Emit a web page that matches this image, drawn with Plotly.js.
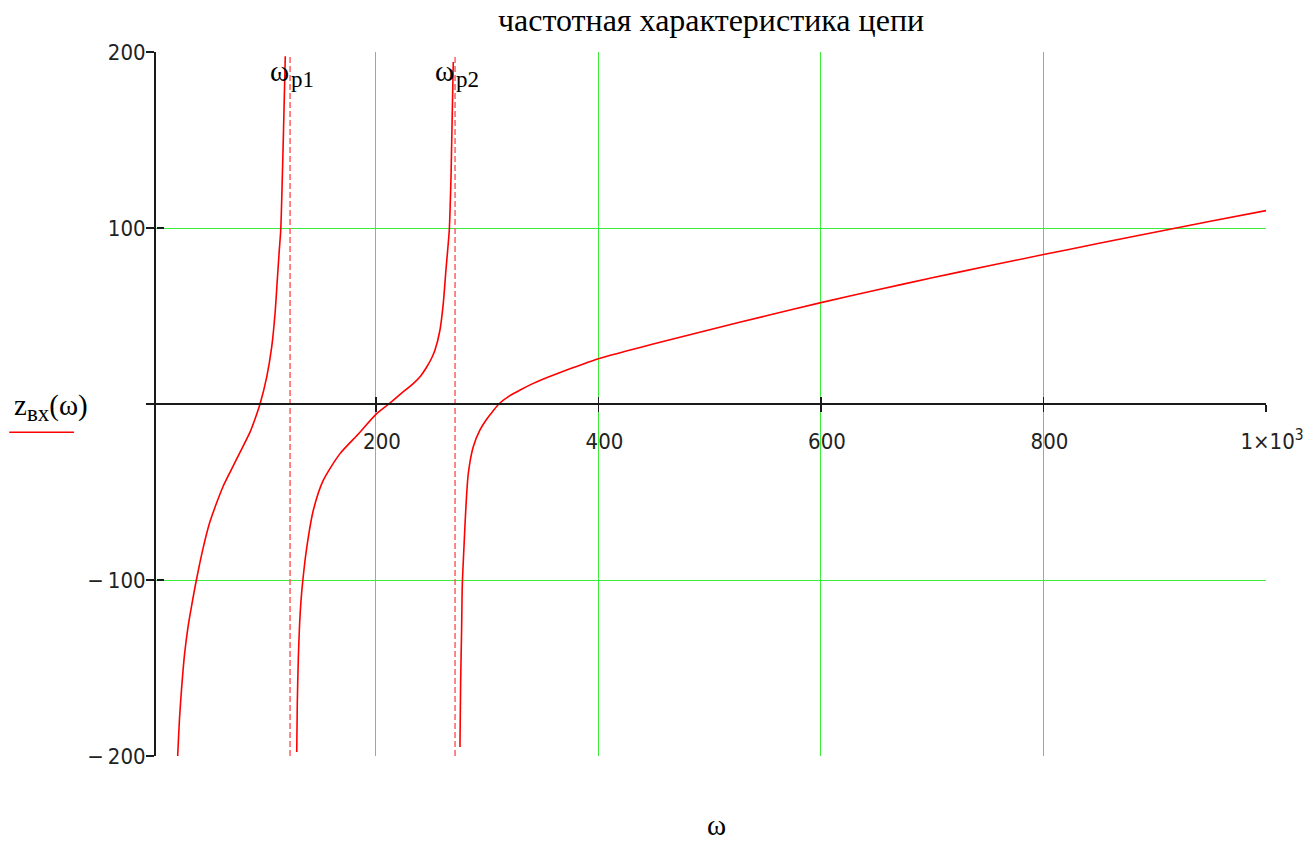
<!DOCTYPE html>
<html><head><meta charset="utf-8">
<script src="https://cdn.plot.ly/plotly-3.0.1.min.js"></script>
<style>body{margin:0;background:#fff}</style>
</head><body><div id="chart" style="width:1316px;height:844px"></div>
<script>
// --- data ---
const branch1X = [21.8, 23.5, 25.5, 28.0, 31.0, 34.5, 38.3, 44.8, 50.5, 56.9, 62.5, 68.8, 77.8, 86.8, 91.3, 95.8, 101.8, 106.3, 109.3, 111.3, 113.1, 114.4, 116.7, 118.5];
const branch1Y = [-200, -178, -160, -142, -127, -114, -101, -81.5, -67.5, -56.0, -47.0, -38.8, -27.5, -16.0, -8.5, 0.0, 15.3, 32.4, 51.4, 70.3, 87.3, 98.7, 149.8, 197.6];
const branch2X = [128.8, 129.3, 130.2, 131.3, 132.6, 134.3, 137.7, 143.7, 152.7, 167.7, 185.0, 200.6, 211.5, 222.0, 233.5, 240.0, 245.6, 250.0, 253.0, 257.5, 260.5, 262.9, 264.7, 265.9, 267.5, 269.5];
const branch2Y = [-197.7, -170, -145, -126, -112, -100, -82, -60.4, -43.3, -28.2, -16.5, -5.5, 0.0, 5.6, 11.6, 15.8, 21.0, 26.0, 30.5, 41.9, 57.0, 76.0, 89.2, 98.7, 130.0, 194.3];
const branch3X = [275.5, 276.1, 277.0, 277.6, 279.1, 280.9, 283.0, 287.4, 293.4, 299.5, 305.0, 310.5, 320.0, 330.0, 340.0, 350.0, 362.0, 375.0, 387.0, 400.0, 425.0, 450.0, 500.0, 550.0, 600.0, 650.0, 700.0, 750.0, 800.0, 850.0, 900.0, 950.0, 1000];
const branch3Y = [-194.9, -158.9, -128.0, -103.0, -81.3, -58.0, -39.5, -24.4, -14.9, -8.7, -4.2, 0.0, 4.6, 8.1, 11.3, 14.1, 17.1, 20.1, 22.9, 25.7, 30.1, 34.2, 42.2, 50.0, 57.6, 64.8, 71.7, 78.4, 84.9, 91.3, 97.6, 103.8, 109.9];
const resonanceX = [122.8, 271.1];
const resonanceNames = ['p1', 'p2'];
const markerY = [-200, 197.6];
const xTickVals = [200, 400, 600, 800, 1000];
const xTickText = ['200', '400', '600', '800', '1×10<sup>3</sup>'];
const yTickVals = [-200, -100, 0, 100, 200];
const yTickText = ['−\u2009200', '−\u2009100', '', '100', '200'];

const xRange = [2.3, 1000];
const yRange = [-200, 200];
const serif = 'Liberation Serif, Times New Roman, serif';
const narrow = 'DejaVu Sans Condensed, Liberation Sans Narrow, Arial Narrow, sans-serif';
const grid = 'rgb(60,238,60)';
const axisCol = '#1a1a1a';

const curveLine = {color: '#ff0000', width: 1.6, shape: 'spline', smoothing: 0.7};
const traces = [
  {x: branch1X, y: branch1Y, mode: 'lines', line: curveLine, hoverinfo: 'skip'},
  {x: branch2X, y: branch2Y, mode: 'lines', line: curveLine, hoverinfo: 'skip'},
  {x: branch3X, y: branch3Y, mode: 'lines', line: curveLine, hoverinfo: 'skip'}
];
resonanceX.forEach(function (w) {
  traces.push({x: [w, w], y: markerY, mode: 'lines', xaxis: 'x2', yaxis: 'y2',
    line: {color: 'rgb(255,95,95)', width: 1.5, dash: '6px,3px'}, hoverinfo: 'skip'});
});

const annotations = [];
resonanceX.forEach(function (w, i) {
  annotations.push({x: w, y: 1, xref: 'x', yref: 'paper', text: 'ω', showarrow: false,
    xanchor: 'right', yanchor: 'middle', xshift: 1, yshift: -19, font: {family: serif, size: 29, color: '#000'}});
  annotations.push({x: w, y: 1, xref: 'x', yref: 'paper', text: resonanceNames[i], showarrow: false,
    xanchor: 'left', yanchor: 'middle', xshift: -1, yshift: -27, font: {family: serif, size: 23, color: '#000'}});
});
annotations.push({x: 0, y: 0.5, xref: 'paper', yref: 'paper',
  text: 'z<sub><span style="font-size:23px">вх</span></sub>(ω)', showarrow: false,
  xanchor: 'left', yanchor: 'middle', xshift: -144, yshift: -3, font: {family: serif, size: 29, color: '#000'}});
annotations.push({x: 0.5, y: 0, xref: 'paper', yref: 'paper', text: 'ω', showarrow: false,
  xanchor: 'center', yanchor: 'bottom', xshift: 5, yshift: -87, font: {family: serif, size: 29, color: '#000'}});

const layout = {
  width: 1316, height: 844,
  margin: {l: 156, r: 50, t: 52, b: 88},
  paper_bgcolor: '#fff', plot_bgcolor: '#fff',
  showlegend: false,
  title: {text: 'частотная характеристика цепи', font: {family: serif, size: 32, color: '#000'},
    x: 0.5, xref: 'paper', xanchor: 'center', y: 1 - 20 / 844, yref: 'container', yanchor: 'middle'},
  xaxis: {range: xRange, tickvals: xTickVals, ticktext: xTickText, anchor: 'free', position: 0.5,
    showgrid: true, gridcolor: grid, gridwidth: 1, zeroline: false,
    showline: true, linecolor: axisCol, linewidth: 2,
    ticks: 'outside', ticklen: 7, tickwidth: 1.5, tickcolor: axisCol,
    ticklabelstandoff: 11, ticklabelshift: 6,
    tickfont: {family: narrow, size: 22, color: '#222'}},
  xaxis2: {range: xRange, tickvals: xTickVals, overlaying: 'x', anchor: 'free', position: 0.5,
    showgrid: false, zeroline: false, showline: false, showticklabels: false,
    ticks: 'inside', ticklen: 7, tickwidth: 1.5, tickcolor: axisCol},
  yaxis: {range: yRange, tickvals: yTickVals, ticktext: yTickText,
    showgrid: true, gridcolor: grid, gridwidth: 1, zeroline: false,
    showline: true, linecolor: axisCol, linewidth: 2,
    ticks: 'outside', ticklen: 8, tickwidth: 1.5, tickcolor: axisCol,
    ticklabelstandoff: -4,
    tickfont: {family: narrow, size: 22, color: '#222'}},
  yaxis2: {range: yRange, tickvals: yTickVals, overlaying: 'y', anchor: 'free', position: 0, side: 'left',
    showgrid: false, zeroline: false, showline: false, showticklabels: false,
    ticks: 'inside', ticklen: 7, tickwidth: 1.5, tickcolor: axisCol},
  annotations: annotations,
  shapes: [{type: 'line', xref: 'paper', yref: 'paper', x0: -0.1322, x1: -0.0739, y0: 0.4598, y1: 0.4598,
    line: {color: '#ff0000', width: 1.5}}]
};

Plotly.newPlot('chart', traces, layout, {displayModeBar: false, staticPlot: true});
</script>
</body></html>
